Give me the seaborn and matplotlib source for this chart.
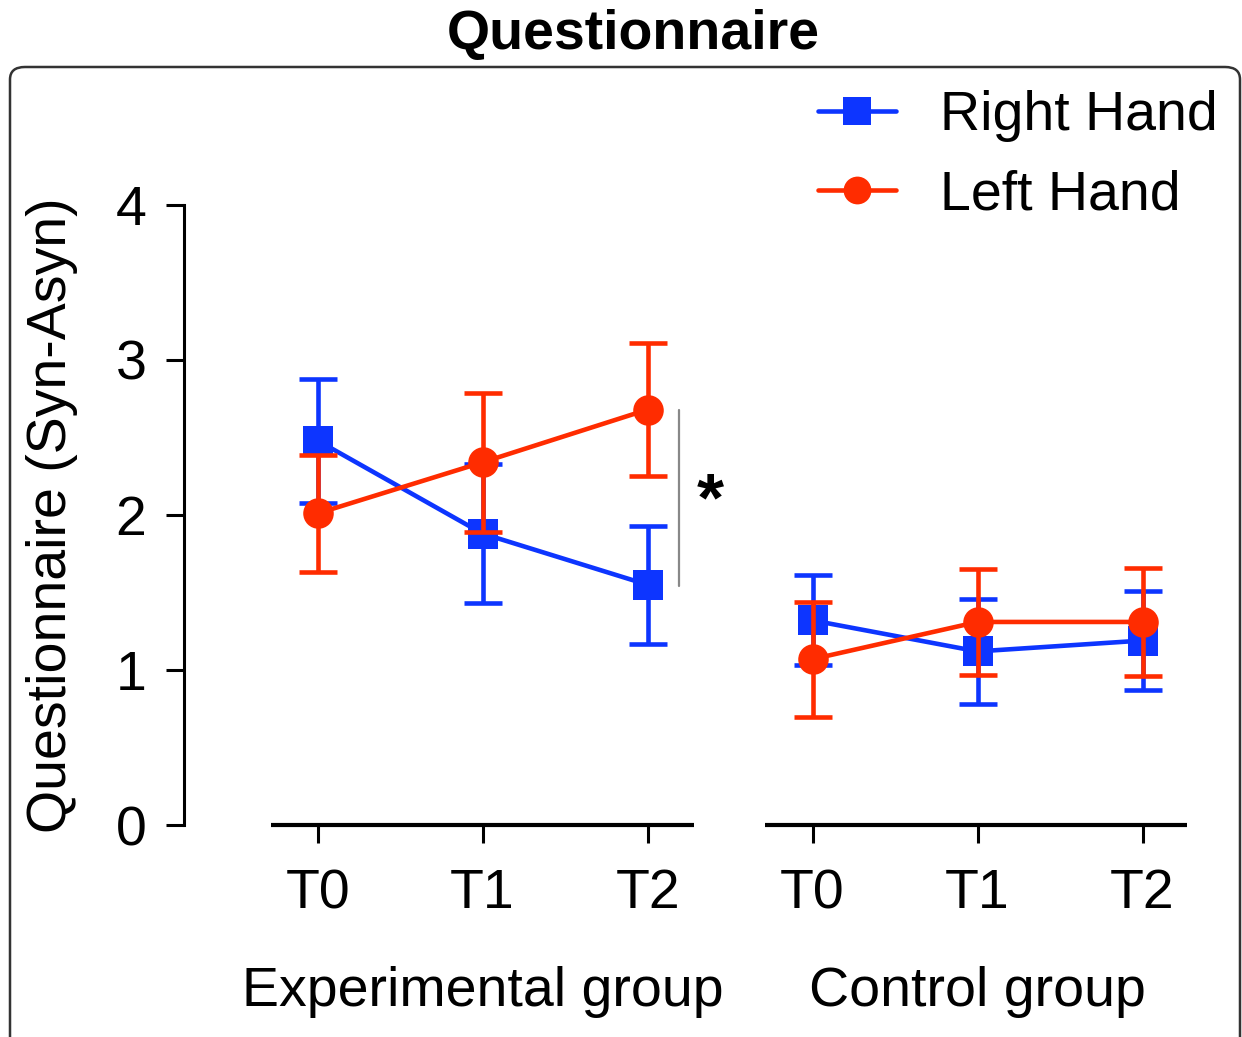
import numpy as np
import pandas as pd
import seaborn as sns
import matplotlib
matplotlib.use("Agg")
from matplotlib import pyplot as plt
from matplotlib.lines import Line2D
from matplotlib.patches import FancyBboxPatch
from matplotlib.transforms import blended_transform_factory

# data (mean +/- error)
times = ["T0", "T1", "T2"]
groups = ["Experimental group", "Control group"]
hands = ["Right Hand", "Left Hand"]

right_exp = [2.48, 1.88, 1.55]
right_exp_err = [0.40, 0.45, 0.38]
left_exp = [2.01, 2.34, 2.68]
left_exp_err = [0.38, 0.45, 0.43]

right_ctrl = [1.32, 1.12, 1.19]
right_ctrl_err = [0.29, 0.34, 0.32]
left_ctrl = [1.07, 1.31, 1.31]
left_ctrl_err = [0.37, 0.34, 0.35]

colors = {"Right Hand": "#0d35ff", "Left Hand": "#ff2c00"}
markers = {"Right Hand": "s", "Left Hand": "o"}

rows = []
for g, grp in enumerate(groups):
    for t, tm in enumerate(times):
        pos = g * 3 + t
        if g == 0:
            rows.append([grp, tm, pos, "Right Hand", right_exp[t], right_exp_err[t]])
            rows.append([grp, tm, pos, "Left Hand", left_exp[t], left_exp_err[t]])
        else:
            rows.append([grp, tm, pos, "Right Hand", right_ctrl[t], right_ctrl_err[t]])
            rows.append([grp, tm, pos, "Left Hand", left_ctrl[t], left_ctrl_err[t]])
df = pd.DataFrame(rows, columns=["group", "time", "pos", "hand", "mean", "err"])

sns.set_style("ticks")
plt.rcParams["font.family"] = ["Liberation Sans", "DejaVu Sans"]
plt.rcParams["text.color"] = "black"
plt.rcParams["axes.labelcolor"] = "black"
plt.rcParams["xtick.color"] = "black"
plt.rcParams["ytick.color"] = "black"
FS = 40

fig = plt.figure(figsize=(12.42, 10.37), dpi=100)
ax = fig.add_axes([184 / 1242, 212 / 1037, 1008 / 1242, 620 / 1037])

z = 2
for hand in hands:
    sub = df[df.hand == hand]
    c = colors[hand]
    ax.errorbar(sub["pos"], sub["mean"], yerr=sub["err"], fmt="none", ecolor=c,
                elinewidth=3.3, capsize=14, capthick=3.3, zorder=z, clip_on=False)
    sns.lineplot(data=sub, x="pos", y="mean", units="group", estimator=None,
                 color=c, marker=markers[hand], markersize=21 if hand == "Right Hand" else 22,
                 markeredgewidth=0, linewidth=3.3, legend=False, ax=ax, zorder=z + 1)
    for ln in ax.lines[-2:]:
        ln.set_clip_on(False)
    z += 2

ax.set_xlim(-0.81, 5.3)
ax.set_ylim(0, 4)
ax.set_yticks([0, 1, 2, 3, 4])
ax.set_xticks(range(6))
ax.set_xticklabels(times * 2)
ax.tick_params(axis="both", labelsize=FS, width=2.2, length=13, color="black")
ax.tick_params(axis="y", pad=14)
ax.tick_params(axis="x", pad=18)
for s in ["top", "right", "bottom"]:
    ax.spines[s].set_visible(False)
ax.spines["left"].set_linewidth(2.2)
ax.spines["left"].set_color("black")

# separate baselines for the two groups
ax.plot([-0.28, 2.28], [0, 0], color="black", lw=3, clip_on=False, solid_capstyle="butt")
ax.plot([2.71, 5.27], [0, 0], color="black", lw=3, clip_on=False, solid_capstyle="butt")

ax.set_xlabel("")
ax.set_ylabel("Questionnaire (Syn-Asyn)", fontsize=FS)
ax.yaxis.set_label_coords(-0.105, 0.5)

trans = blended_transform_factory(ax.transData, ax.transAxes)
ax.text(1, -0.27, groups[0], transform=trans, ha="center", va="center", fontsize=FS)
ax.text(4, -0.27, groups[1], transform=trans, ha="center", va="center", fontsize=FS)

# significance marker
ax.plot([2.19, 2.19], [1.54, 2.68], color="#888888", lw=1.6)
ax.text(2.38, 2.08, "*", fontsize=50, fontweight="bold", ha="center", va="center")

handles = [Line2D([], [], color=colors[h], marker=markers[h], lw=3.3, markersize=20,
                  markeredgewidth=0) for h in hands]
fig.legend(handles, hands, loc="upper left", bbox_to_anchor=(818 / 1242, 1 - 90 / 1037),
           frameon=False, fontsize=FS, handlelength=1.4, handletextpad=0.8,
           labelspacing=0.5, borderpad=0, borderaxespad=0)

fig.text(633 / 1242, 1 - 35 / 1037, "Questionnaire", fontsize=40, fontweight="bold",
         ha="center", va="center")

frame = FancyBboxPatch((10 / 1242, -0.05), 1230 / 1242, (1037 - 67) / 1037 + 0.05,
                       boxstyle="round,pad=0,rounding_size=0.012", transform=fig.transFigure,
                       fill=False, edgecolor="#333333", lw=1.8)
fig.patches.append(frame)

fig.savefig("out.png", dpi=100)
